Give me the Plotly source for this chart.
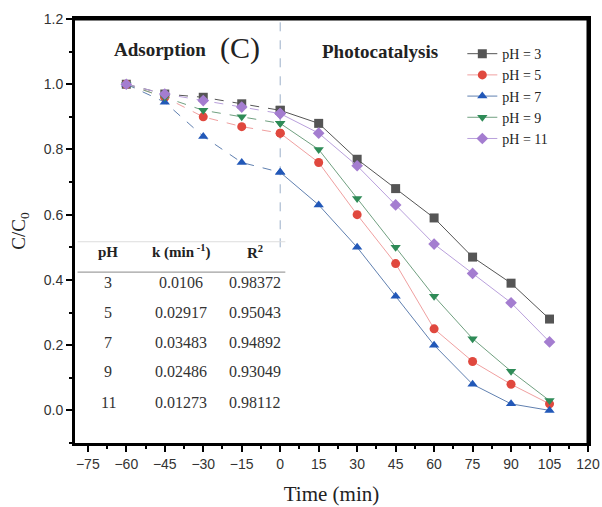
import plotly.graph_objects as go

time = [-60, -45, -30, -15, 0, 15, 30, 45, 60, 75, 90, 105]
ph3 = [1.0, 0.97, 0.96, 0.94, 0.92, 0.88, 0.77, 0.68, 0.59, 0.47, 0.39, 0.28]
ph5 = [1.0, 0.96, 0.90, 0.87, 0.85, 0.76, 0.60, 0.45, 0.25, 0.15, 0.08, 0.02]
ph7 = [1.0, 0.945, 0.84, 0.76, 0.73, 0.63, 0.50, 0.35, 0.20, 0.08, 0.02, 0.0]
ph9 = [1.0, 0.96, 0.92, 0.90, 0.88, 0.80, 0.65, 0.50, 0.35, 0.22, 0.12, 0.03]
ph11 = [1.0, 0.97, 0.95, 0.93, 0.91, 0.85, 0.75, 0.63, 0.51, 0.42, 0.33, 0.21]

series_names = ["pH = 3", "pH = 5", "pH = 7", "pH = 9", "pH = 11"]
series_vals = [ph3, ph5, ph7, ph9, ph11]
marker_colors = ["#555555", "#E0483E", "#2258B8", "#2E8B57", "#A47DD0"]
line_colors = ["#555555", "#F0A0A0", "#6080B0", "#70A080", "#B9A0DC"]
symbols = ["square", "circle", "triangle-up", "triangle-down", "diamond"]

table_ph = ["3", "5", "7", "9", "11"]
table_k = ["0.0106", "0.02917", "0.03483", "0.02486", "0.01273"]
table_r2 = ["0.98372", "0.95043", "0.94892", "0.93049", "0.98112"]

serif = "Liberation Serif"
sans = "Liberation Sans"

fig = go.Figure()
n_ads = time.index(0) + 1
for name, vals, mc, lc, sym in zip(series_names, series_vals, marker_colors, line_colors, symbols):
    fig.add_trace(go.Scatter(
        x=time[:n_ads], y=vals[:n_ads], mode="lines+markers",
        line=dict(color=lc, width=1, dash="dash"),
        marker=dict(symbol=sym, size=9, color=mc),
        legendgroup=name, showlegend=False, hoverinfo="skip"))
    fig.add_trace(go.Scatter(
        x=time[n_ads - 1:], y=vals[n_ads - 1:], mode="lines+markers", name=name,
        line=dict(color=lc, width=1),
        marker=dict(symbol=sym, size=9, color=mc),
        legendgroup=name))

# plot frame (axis-domain coordinates)
frame = dict(color="#000000", width=3)
fig.add_shape(type="line", x0=0, x1=1, y0=1, y1=1, xref="x domain", yref="y domain", line=frame, layer="above")
fig.add_shape(type="line", x0=1, x1=1, y0=0, y1=1, xref="x domain", yref="y domain", line=frame, layer="above")
# vertical dashed separator
fig.add_shape(type="line", x0=0, x1=0, y0=0.5, y1=1.2, xref="x", yref="y",
              line=dict(color="#9AAFC8", width=1, dash="dash"), layer="below")
# table lines
fig.add_shape(type="line", x0=-79, x1=2, y0=0.517, y1=0.517,
              line=dict(color="#DDDDDD", width=1), layer="below")
fig.add_shape(type="line", x0=-79, x1=2, y0=0.424, y1=0.424,
              line=dict(color="#888888", width=1))

col_x = [-67, -38.5, -10]
row_y = [0.391, 0.299, 0.207, 0.118, 0.023]
headers = ["<b>pH</b>", "<b>k (min<sup> -1</sup>)</b>", "<b>R<sup>2</sup></b>"]
for cx, h in zip(col_x, headers):
    fig.add_annotation(x=cx, y=0.486, text=h, showarrow=False,
                       font=dict(family=serif, size=15, color="#222"))
for cx, col in zip(col_x, [table_ph, table_k, table_r2]):
    for ry, t in zip(row_y, col):
        fig.add_annotation(x=cx, y=ry, text=t, showarrow=False,
                           font=dict(family=serif, size=16, color="#333"))

fig.add_annotation(x=-47, y=1.105, text="<b>Adsorption</b>", showarrow=False,
                   font=dict(family=serif, size=19, color="#222"))
fig.add_annotation(x=-15.5, y=1.11, text="(C)", showarrow=False,
                   font=dict(family=serif, size=30, color="#222"))
fig.add_annotation(x=39, y=1.10, text="<b>Photocatalysis</b>", showarrow=False,
                   font=dict(family=serif, size=19, color="#222"))

fig.update_layout(
    width=602, height=507,
    margin=dict(l=75, r=14, t=19, b=64, autoexpand=False),
    paper_bgcolor="white", plot_bgcolor="white",
    showlegend=True,
    legend=dict(x=0.755, y=0.955, xanchor="left", yanchor="top",
                bgcolor="rgba(0,0,0,0)", font=dict(family=serif, size=14, color="#222"),
                tracegroupgap=0, itemwidth=30),
    xaxis=dict(range=[-80, 120], tickmode="array", automargin=False,
               tickvals=[-75, -60, -45, -30, -15, 0, 15, 30, 45, 60, 75, 90, 105, 120],
               ticks="outside", ticklen=6, tickwidth=2, tickcolor="black",
               minor=dict(dtick=7.5, tick0=-75, ticks="outside", ticklen=3, tickwidth=1.5, tickcolor="black"),
               showline=True, linewidth=3, linecolor="#000000", mirror=True,
               showgrid=False, zeroline=False,
               tickfont=dict(family=sans, size=14, color="#333"),
               title=dict(text="Time (min)", font=dict(family=serif, size=21, color="#222"), standoff=16)),
    yaxis=dict(range=[-0.1, 1.2], tickmode="array", automargin=False,
               tickvals=[0.0, 0.2, 0.4, 0.6, 0.8, 1.0, 1.2],
               ticktext=["0.0", "0.2", "0.4", "0.6", "0.8", "1.0", "1.2"],
               ticks="outside", ticklen=6, tickwidth=2, tickcolor="black",
               minor=dict(dtick=0.1, tick0=0, ticks="outside", ticklen=3, tickwidth=1.5, tickcolor="black"),
               showline=True, linewidth=3, linecolor="#000000", mirror=True,
               showgrid=False, zeroline=False,
               tickfont=dict(family=sans, size=14, color="#333"),
               title=dict(text="C/C<sub>0</sub>", font=dict(family=serif, size=19, color="#222"), standoff=14)),
)

fig.write_html("out.html", config={"displayModeBar": False},
               post_script="document.body.style.margin='0';")
